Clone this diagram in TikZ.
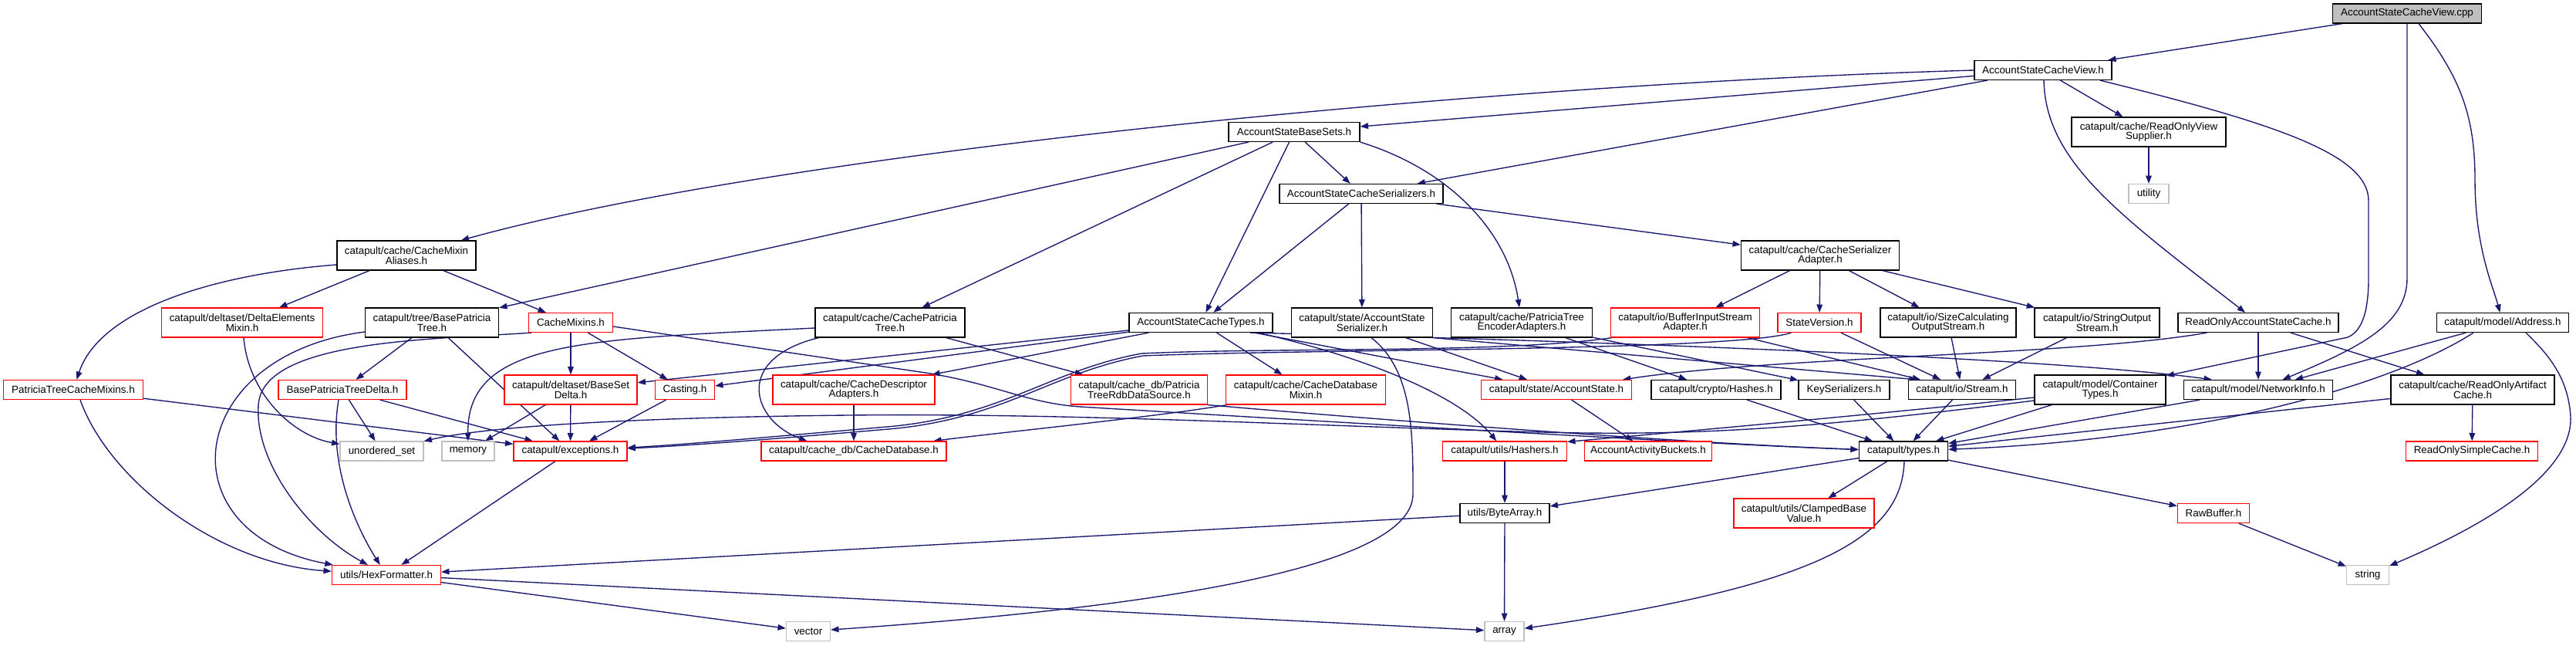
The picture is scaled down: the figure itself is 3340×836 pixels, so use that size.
\documentclass[tikz,border=0pt]{standalone}
\usepackage{fontspec}
\setmainfont{Liberation Sans}
\usetikzlibrary{arrows.meta,calc}
\definecolor{edgec}{HTML}{191970}
\definecolor{graybox}{HTML}{BFBFBF}
\pgfdeclarelayer{back}
\pgfdeclarelayer{bg}
\pgfsetlayers{back,bg,main}
\begin{document}
\begin{tikzpicture}[x=0.5pt,y=-0.5pt,
 nb/.style={draw, rectangle, inner sep=0pt, align=center, font=\fontsize{6.7}{6.4}\selectfont, line width=0.6pt, fill=white},
 bk/.style={nb, draw=black},
 rd/.style={nb, draw=red},
 gy/.style={nb, draw=graybox},
 dep/.style={draw=edgec, line width=0.68pt, -{Triangle[length=5.2pt,width=3.8pt]}}]
\useasboundingbox (0,0) rectangle (3340,836);
\begin{pgfonlayer}{back}
\fill[white] (0,0) rectangle (3340,836);
\end{pgfonlayer}
% row 0-4
\node[bk, fill=graybox, minimum width=96.5pt, minimum height=12.5pt] (cpp) at (3121,17.5) {AccountStateCacheView.cpp};
\node[bk, minimum width=89pt, minimum height=12.5pt] (view) at (2649,91) {AccountStateCacheView.h};
\node[bk, minimum width=100pt, minimum height=19pt] (supplier) at (2786,171) {catapult/cache/ReadOnlyView\\Supplier.h};
\node[bk, minimum width=85pt, minimum height=12.5pt] (basesets) at (1678,171) {AccountStateBaseSets.h};
\node[gy, minimum width=26pt, minimum height=12.5pt] (utility) at (2786,251) {utility};
\node[bk, minimum width=106pt, minimum height=12.5pt] (serializers) at (1765,251) {AccountStateCacheSerializers.h};
\node[bk, minimum width=90pt, minimum height=19pt] (mixinaliases) at (527,331) {catapult/cache/CacheMixin\\Aliases.h};
\node[bk, minimum width=102.5pt, minimum height=19pt] (seradapter) at (2360,331) {catapult/cache/CacheSerializer\\Adapter.h};
% row 5
\node[rd, minimum width=104.5pt, minimum height=19pt] (deltamixin) at (314,418) {catapult/deltaset/DeltaElements\\Mixin.h};
\node[bk, minimum width=86.5pt, minimum height=19pt] (basepatricia) at (560,418) {catapult/tree/BasePatricia\\Tree.h};
\node[rd, minimum width=54.5pt, minimum height=12.5pt] (cachemixins) at (740,418) {CacheMixins.h};
\node[bk, minimum width=97pt, minimum height=19pt] (cachepatricia) at (1154,418) {catapult/cache/CachePatricia\\Tree.h};
\node[bk, minimum width=93pt, minimum height=12.5pt] (types) at (1557,418) {AccountStateCacheTypes.h};
\node[bk, minimum width=91.5pt, minimum height=19pt] (acctserializer) at (1766,418) {catapult/state/AccountState\\Serializer.h};
\node[bk, minimum width=91.5pt, minimum height=19pt] (encoderadapters) at (1973,418) {catapult/cache/PatriciaTree\\EncoderAdapters.h};
\node[rd, minimum width=96.5pt, minimum height=19pt] (bufferinput) at (2185,418) {catapult/io/BufferInputStream\\Adapter.h};
\node[rd, minimum width=54pt, minimum height=12.5pt] (stateversion) at (2359,418) {StateVersion.h};
\node[bk, minimum width=88pt, minimum height=19pt] (sizecalc) at (2526,418) {catapult/io/SizeCalculating\\OutputStream.h};
\node[bk, minimum width=81pt, minimum height=19pt] (stringout) at (2719,418) {catapult/io/StringOutput\\Stream.h};
\node[bk, minimum width=104pt, minimum height=12.5pt] (roacache) at (2928,418) {ReadOnlyAccountStateCache.h};
\node[bk, minimum width=85.5pt, minimum height=12.5pt] (address) at (3245,418) {catapult/model/Address.h};
% row 6
\node[rd, minimum width=90.5pt, minimum height=12.5pt] (ptcm) at (95,505) {PatriciaTreeCacheMixins.h};
\node[rd, minimum width=83pt, minimum height=12.5pt] (bptd) at (444,505) {BasePatriciaTreeDelta.h};
\node[rd, minimum width=86pt, minimum height=19pt] (basesetdelta) at (740,505) {catapult/deltaset/BaseSet\\Delta.h};
\node[rd, minimum width=38.5pt, minimum height=12.5pt] (casting) at (888,505) {Casting.h};
\node[rd, minimum width=105pt, minimum height=19pt] (descadapters) at (1107,505) {catapult/cache/CacheDescriptor\\Adapters.h};
\node[rd, minimum width=88.5pt, minimum height=19pt] (rdbsource) at (1477,505) {catapult/cache\_db/Patricia\\TreeRdbDataSource.h};
\node[rd, minimum width=103.5pt, minimum height=19pt] (dbmixin) at (1693,505) {catapult/cache/CacheDatabase\\Mixin.h};
\node[rd, minimum width=97.5pt, minimum height=12.5pt] (accountstate) at (2018,505) {catapult/state/AccountState.h};
\node[bk, minimum width=84pt, minimum height=12.5pt] (hashes) at (2225,505) {catapult/crypto/Hashes.h};
\node[bk, minimum width=59pt, minimum height=12.5pt] (keyser) at (2391,505) {KeySerializers.h};
\node[bk, minimum width=69.5pt, minimum height=12.5pt] (stream) at (2544,505) {catapult/io/Stream.h};
\node[bk, minimum width=85pt, minimum height=19pt] (container) at (2723,505) {catapult/model/Container\\Types.h};
\node[bk, minimum width=96.5pt, minimum height=12.5pt] (networkinfo) at (2928,505) {catapult/model/NetworkInfo.h};
\node[bk, minimum width=106pt, minimum height=19pt] (roartifact) at (3206,505) {catapult/cache/ReadOnlyArtifact\\Cache.h};
% row 7
\node[gy, minimum width=54pt, minimum height=12.5pt] (unordered) at (495,584.5) {unordered\_set};
\node[gy, minimum width=34pt, minimum height=12.5pt] (memory) at (607,584.5) {memory};
\node[rd, minimum width=73.5pt, minimum height=12.5pt] (exceptions) at (739.5,584.5) {catapult/exceptions.h};
\node[rd, minimum width=120pt, minimum height=12.5pt] (cachedb) at (1107,584.5) {catapult/cache\_db/CacheDatabase.h};
\node[rd, minimum width=80.5pt, minimum height=12.5pt] (hashers) at (1951,584.5) {catapult/utils/Hashers.h};
\node[rd, minimum width=82.5pt, minimum height=12.5pt] (buckets) at (2137,584.5) {AccountActivityBuckets.h};
\node[bk, minimum width=57.5pt, minimum height=12.5pt] (ctypes) at (2468,584.5) {catapult/types.h};
\node[rd, minimum width=85.5pt, minimum height=12.5pt] (rosimple) at (3205,584.5) {ReadOnlySimpleCache.h};
% row 8-10
\node[bk, minimum width=58pt, minimum height=12.5pt] (bytearray) at (1951,665) {utils/ByteArray.h};
\node[rd, minimum width=91pt, minimum height=19pt] (clamped) at (2339,665) {catapult/utils/ClampedBase\\Value.h};
\node[rd, minimum width=46.5pt, minimum height=12.5pt] (rawbuffer) at (2870,665) {RawBuffer.h};
\node[rd, minimum width=70.5pt, minimum height=12.5pt] (hexformatter) at (501,745) {utils/HexFormatter.h};
\node[gy, minimum width=27.5pt, minimum height=12.5pt] (string) at (3070,745) {string};
\node[gy, minimum width=28.5pt, minimum height=12.5pt] (vector) at (1048,818) {vector};
\node[gy, minimum width=25.5pt, minimum height=12.5pt] (array) at (1950.5,818) {array};

\begin{pgfonlayer}{bg}
% from cpp
\draw[dep] (cpp) -- (view);
\draw[dep] (cpp.south) -- (3121,360) .. controls (3121,420) and (3060,450) .. (networkinfo);
\draw[dep] ($(cpp.south)+(15,0)$) .. controls (3190,100) and (3209,150) .. (3209,233) .. controls (3209,320) and (3232,370) .. (address);
% from view
\draw[dep] (view.west) .. controls (1900,110) and (1000,200) .. (mixinaliases);
\draw[dep] (view) -- (basesets);
\draw[dep] (view) -- (serializers);
\draw[dep] (view) -- (supplier);
\draw[dep] ($(view.south)+(1,0)$) .. controls (2652,210) and (2750,280) .. (roacache);
\draw[dep] ($(view.south)+(74,0)$) .. controls (2950,160) and (3071,200) .. (3071,260) -- (3071,360) .. controls (3071,410) and (3060,430) .. (3044,437) -- (container);
\draw[dep] (supplier) -- (utility);
% basesets
\draw[dep] (basesets) -- (serializers);
\draw[dep] (basesets) -- (types);
\draw[dep] (basesets) -- (cachepatricia);
\draw[dep] (basesets) -- (basepatricia);
\draw[dep] (basesets.south east) .. controls (1880,220) and (1955,300) .. (encoderadapters);
% serializers
\draw[dep] (serializers) -- (types);
\draw[dep] (serializers) -- (acctserializer);
\draw[dep] (serializers) -- (seradapter);
% mixin aliases
\draw[dep] (mixinaliases) -- (deltamixin);
\draw[dep] (mixinaliases) -- (cachemixins);
\draw[dep] ($(mixinaliases.west)+(0,12)$) .. controls (280,355) and (130,400) .. (ptcm);
% serializer adapter
\draw[dep] (seradapter) -- (bufferinput);
\draw[dep] (seradapter) -- (stateversion);
\draw[dep] (seradapter) -- (sizecalc);
\draw[dep] (seradapter) -- (stringout);
% row 5 sources
\draw[dep] ($(deltamixin.south)+(2,0)$) .. controls (322,510) and (380,565) .. (unordered);
\draw[dep] (basepatricia) -- (bptd);
\draw[dep] (basepatricia) -- (exceptions);
\draw[dep] ($(basepatricia.west)+(0,12)$) .. controls (240,460) and (210,690) .. (hexformatter);
\draw[dep] (cachemixins) -- (basesetdelta);
\draw[dep] (cachemixins) -- (casting);
\draw[dep] ($(cachemixins.south)+(-51,0)$) .. controls (560,440) and (340,440) .. (335,525) .. controls (330,600) and (400,690) .. (hexformatter);
\draw[dep] ($(cachemixins.east)+(0,5)$) -- (1200,483) .. controls (1290,497) and (1330,522) .. (1400,527) .. controls (1700,545) and (2200,575) .. (ctypes);
\draw[dep] ($(cachepatricia.west)+(0,7)$) .. controls (760,440) and (605,440) .. (memory);
\draw[dep] ($(cachepatricia.south west)+(5,0)$) .. controls (950,465) and (975,545) .. ($(cachedb.north west)+(60,0)$);
\draw[dep] (cachepatricia) -- (rdbsource);
\draw[dep] (types) -- (descadapters);
\draw[dep] (types) -- (basesetdelta);
\draw[dep] (types) -- (casting);
\draw[dep] (types) -- (dbmixin);
\draw[dep] (types) -- (accountstate);
\draw[dep] ($(types.south east)+(-20,0)$) .. controls (1760,460) and (1890,510) .. (hashers);
\draw[dep] ($(types.south)+(64,0)$) .. controls (2000,440) and (2650,462) .. ($(networkinfo.north west)+(37,0)$);
\draw[dep] (acctserializer) -- (accountstate);
\draw[dep] (acctserializer.south east) -- ($(stream.north west)+(12,0)$);
\draw[dep] ($(acctserializer.south)+(12,0)$) .. controls (1832,480) and (1832,560) .. (1832,640) .. controls (1832,720) and (1600,780) .. (vector);
\draw[dep] (encoderadapters) -- (hashes);
\draw[dep] (encoderadapters) -- (keyser);
\draw[dep] (bufferinput) -- (stream);
\draw[dep] ($(bufferinput.south west)+(2,0)$) .. controls (1950,458) and (1650,450) .. (1480,458) .. controls (1360,480) and (1300,540) .. (1150,553) .. controls (1000,566) and (900,575) .. (exceptions);
\draw[dep] ($(stateversion.south west)+(18,0)$) .. controls (2250,455) and (1700,452) .. (1482,461) .. controls (1362,483) and (1302,543) .. (1152,556) .. controls (1000,569) and (900,577) .. (exceptions);
\draw[dep] (stateversion) -- (stream);
\draw[dep] (sizecalc) -- (stream);
\draw[dep] (stringout) -- (stream);
\draw[dep] (roacache) -- (networkinfo);
\draw[dep] (roacache) -- (roartifact);
\draw[dep] ($(roacache.south west)+(38,0)$) .. controls (2700,460) and (2300,462) .. (accountstate);
\draw[dep] (address) -- (networkinfo);
\draw[dep] ($(address.south)+(-38,0)$) .. controls (3100,500) and (2850,570) .. (ctypes);
\draw[dep] ($(address.south)+(30,0)$) .. controls (3305,460) and (3330,490) .. (3333,540) .. controls (3336,620) and (3200,690) .. (string);
% row 6 sources
\draw[dep] ($(ptcm.south)+(9,0)$) .. controls (140,620) and (280,730) .. (hexformatter);
\draw[dep] (ptcm) -- (exceptions);
\draw[dep] (bptd) -- (unordered);
\draw[dep] ($(bptd.south)+(-5,0)$) .. controls (425,600) and (460,680) .. (hexformatter);
\draw[dep] (bptd) -- (exceptions);
\draw[dep] (basesetdelta) -- (memory);
\draw[dep] (basesetdelta) -- (exceptions);
\draw[dep] (casting) -- (exceptions);
\draw[dep] (descadapters) -- (cachedb);
\draw[dep] (rdbsource.south east) .. controls (1800,545) and (2200,575) .. (ctypes);
\draw[dep] ($(dbmixin.south west)+(2,0)$) .. controls (1500,540) and (1300,560) .. (cachedb);
\draw[dep] (accountstate) -- (buckets);
\draw[dep] (hashes) -- (ctypes);
\draw[dep] (keyser) -- (ctypes);
\draw[dep] (stream) -- (ctypes);
\draw[dep] (container) -- (ctypes);
\draw[dep] ($(container.west)+(0,14)$) .. controls (2350,555) and (2200,565) .. (2000,560) .. controls (1700,552) and (1400,535) .. (1100,538) .. controls (900,540) and (650,548) .. (unordered);
\draw[dep] ($(container.west)+(0,10)$) .. controls (2400,540) and (2150,562) .. ($(hashers.north east)+(0,1)$);
\draw[dep] (networkinfo) -- (ctypes);
\draw[dep] (roartifact) -- (ctypes);
\draw[dep] (roartifact) -- (rosimple);
% row 7+
\draw[dep] (ctypes) -- (bytearray);
\draw[dep] (ctypes) -- (clamped);
\draw[dep] (ctypes) -- (rawbuffer);
\draw[dep] ($(ctypes.south)+(1,0)$) .. controls (2466,700) and (2350,760) .. (array);
\draw[dep] (exceptions) -- (hexformatter);
\draw[dep] (hashers) -- (bytearray);
\draw[dep] (bytearray) -- (array);
\draw[dep] (bytearray) -- (hexformatter);
\draw[dep] (rawbuffer) -- (string);
\draw[dep] (hexformatter) -- (vector);
\draw[dep] (hexformatter) -- (array);
\end{pgfonlayer}
\end{tikzpicture}
\end{document}
